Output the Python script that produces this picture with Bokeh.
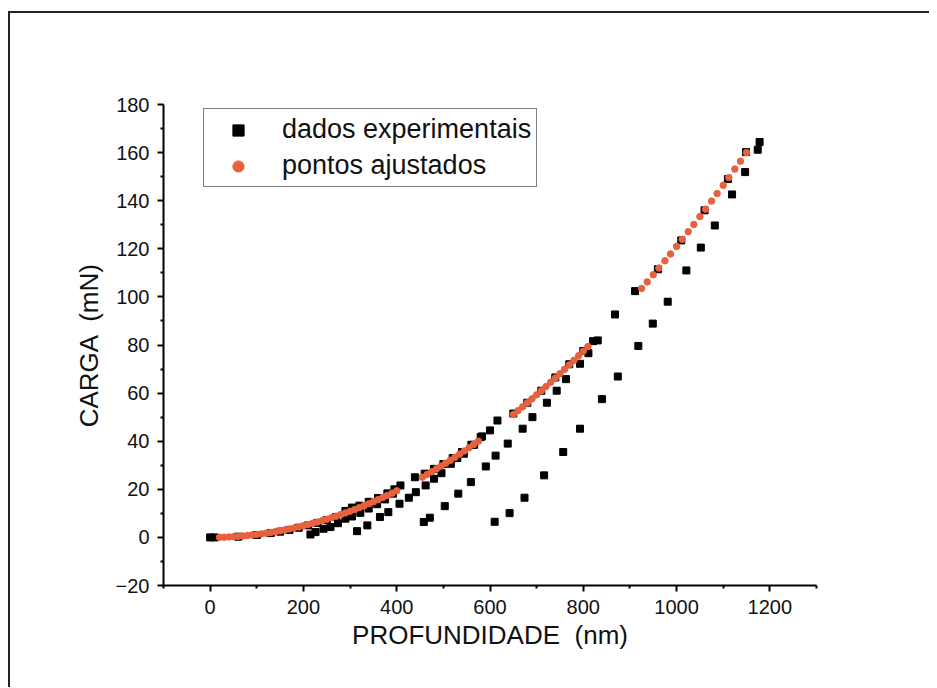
from bokeh.plotting import figure
from bokeh.models import Range1d, FixedTicker, Legend, LegendItem
from bokeh.embed import file_html
from bokeh.resources import INLINE

# ---------------- data ----------------
# dados experimentais (profundidade nm, carga mN)
exp_depth = [0, 10, 60, 100, 130, 150, 170, 190, 210, 230, 250, 270, 290, 304, 320, 340, 360, 380, 395, 408,
             215, 226, 243, 258, 274, 290, 304, 322, 340, 358, 375, 392,
             439, 460, 480, 500, 520, 540, 560, 583,
             315, 337, 364, 382, 406, 426, 441, 462, 480, 496, 516, 530, 544, 566, 580,
             600, 616, 650, 680, 710, 740, 770, 800, 821, 831,
             458, 471, 503, 532, 559, 591, 612, 638, 670, 691, 722, 743, 763, 793, 811,
             868, 911, 960, 1010, 1060, 1110, 1149, 1178,
             1174, 1147, 1119, 1082, 1052, 1021, 981, 949, 918, 874, 840, 793, 757, 716, 674, 642, 610]
exp_load = [0.0, 0.0, 0.3, 1.0, 1.8, 2.4, 3.1, 4.0, 5.0, 6.0, 7.2, 8.5, 11.0, 12.4, 13.2, 14.8, 16.4, 18.3, 20.0, 21.6,
            1.2, 2.2, 3.6, 4.3, 5.9, 7.8, 8.7, 10.2, 12.0, 13.8, 15.8, 18.2,
            25.0, 26.5, 28.5, 30.5, 33.0, 35.5, 38.5, 42.0,
            2.6, 5.0, 8.5, 10.5, 14.0, 16.5, 18.8, 21.6, 24.4, 26.7, 30.6, 33.0, 34.8, 38.5, 41.7,
            44.5, 48.6, 51.5, 56.0, 61.0, 66.5, 72.0, 77.5, 81.6, 81.9,
            6.4, 8.2, 13.0, 18.2, 23.0, 29.5, 34.0, 39.0, 45.2, 50.0, 56.0, 61.0, 65.8, 72.2, 76.6,
            92.7, 102.4, 111.5, 123.5, 136.0, 149.0, 160.2, 164.4,
            161.2, 151.9, 142.6, 129.7, 120.5, 111.0, 98.0, 88.9, 79.6, 66.9, 57.5, 45.2, 35.5, 25.8, 16.5, 10.1, 6.5]

# pontos ajustados
fit_depth = [20, 30, 40, 50, 60, 70, 80, 90, 100, 110, 120, 130, 140, 150, 160, 170, 180, 190, 200,
             210, 220, 230, 240, 250, 260, 270, 280, 290, 300, 310, 320, 330, 340, 350, 360, 370, 380, 390, 400,
             455, 465, 475, 485, 495, 505, 515, 525, 535, 545, 555, 565, 575,
             650, 660, 670, 680, 690, 700, 710, 720, 730, 740, 750, 760, 770, 780, 790, 800, 810,
             925, 937, 950, 962, 975, 987, 1000, 1012, 1025, 1037, 1050, 1062, 1075, 1087, 1100, 1112, 1125,
             1137, 1150]
fit_load = [0.05, 0.11, 0.19, 0.30, 0.44, 0.59, 0.77, 0.98, 1.21, 1.46, 1.74, 2.04, 2.37, 2.72, 3.10, 3.50, 3.92,
            4.37, 4.84, 5.34, 5.86, 6.40, 6.97, 7.56, 8.18, 8.82, 9.49, 10.18, 10.89, 11.63, 12.39, 13.18, 13.99,
            14.82, 15.68, 16.56, 17.47, 18.40, 19.36,
            25.05, 26.16, 27.30, 28.46, 29.65, 30.86, 32.09, 33.35, 34.63, 35.94, 37.27, 38.63, 40.01,
            51.12, 52.71, 54.32, 55.95, 57.61, 59.29, 61.00, 62.73, 64.48, 66.26, 68.06, 69.89, 71.74, 73.62,
            75.52, 77.44, 79.39,
            103.53, 106.23, 109.20, 111.98, 115.03, 117.87, 121.00, 123.92, 127.13, 130.12, 133.40, 136.47,
            139.83, 142.97, 146.41, 149.62, 153.14, 156.42, 160.02]

x_major_ticks = [0, 200, 400, 600, 800, 1000, 1200]
x_minor_ticks = [-100, 100, 300, 500, 700, 900, 1100, 1300]
y_major_ticks = [-20, 0, 20, 40, 60, 80, 100, 120, 140, 160, 180]
y_minor_ticks = [-10, 10, 30, 50, 70, 90, 110, 130, 150, 170]

x_title = "PROFUNDIDADE \u00a0(nm)"
y_title = "CARGA \u00a0(mN)"

FONT = "Liberation Sans"

p = figure(frame_width=653, frame_height=481,
           min_border_left=153, min_border_right=113, min_border_top=91, min_border_bottom=102,
           x_range=Range1d(-100, 1300), y_range=Range1d(-20, 180),
           output_backend="svg", toolbar_location=None,
           background_fill_color="white", border_fill_color="white",
           styles={"border-left": "2px solid #222", "border-top": "2px solid #222",
                   "margin-top": "11px", "margin-left": "8px"})

p.outline_line_color = None
p.xgrid.grid_line_color = None
p.ygrid.grid_line_color = None

r_exp = p.scatter(exp_depth, exp_load, marker="square", size=7, fill_color="black", line_color="black")
r_fit = p.scatter(fit_depth, fit_load, marker="circle", size=6.5, fill_color="#E8613F", line_color="#E8613F")

for ax, maj, mnr, lab in ((p.xaxis[0], x_major_ticks, x_minor_ticks, x_title),
                          (p.yaxis[0], y_major_ticks, y_minor_ticks, y_title)):
    ax.ticker = FixedTicker(ticks=maj, minor_ticks=mnr)
    ax.axis_label = lab
    ax.axis_label_text_font = FONT
    ax.axis_label_text_font_size = "26px"
    ax.axis_label_text_font_style = "normal"
    ax.axis_label_text_color = "#111"
    ax.major_label_text_font = FONT
    ax.major_label_text_font_size = "20px"
    ax.major_label_text_color = "#111"
    ax.axis_line_width = 2
    ax.axis_line_color = "black"
    ax.major_tick_line_width = 2
    ax.major_tick_line_color = "black"
    ax.major_tick_out = 6
    ax.major_tick_in = 0
    ax.minor_tick_line_width = 2
    ax.minor_tick_line_color = "black"
    ax.minor_tick_out = 3
    ax.minor_tick_in = 0
    ax.major_label_standoff = 8

p.yaxis[0].axis_label_standoff = 9
p.xaxis[0].axis_label_standoff = 3

legend = Legend(items=[LegendItem(label="dados experimentais", renderers=[r_exp]),
                       LegendItem(label="pontos ajustados", renderers=[r_fit])],
                location=(40, 398))
legend.label_text_font = FONT
legend.label_text_font_size = "27px"
legend.label_text_color = "#111"
legend.glyph_width = 58
legend.glyph_height = 28
legend.label_height = 28
legend.label_standoff = 15
legend.spacing = 5
legend.padding = 5
legend.margin = 0
legend.border_line_color = "black"
legend.border_line_width = 1.5
legend.background_fill_color = "white"
legend.background_fill_alpha = 1
p.add_layout(legend)

open("out.html", "w").write(file_html(p, INLINE))
